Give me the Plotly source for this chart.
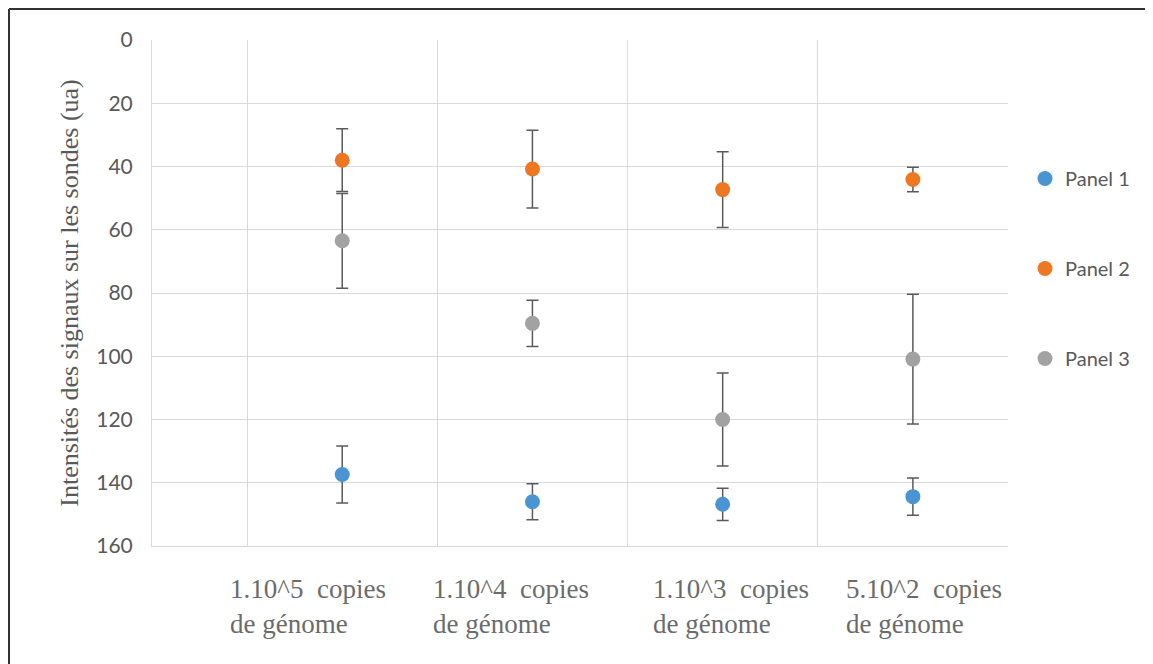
import plotly.graph_objects as go

# ---- data ----
categories = ["1.10^5\u00a0 copies<br>de génome",
              "1.10^4\u00a0 copies<br>de génome",
              "1.10^3\u00a0 copies<br>de génome",
              "5.10^2\u00a0 copies<br>de génome"]
x_pos = [1, 2, 3, 4]
label_x = [0.40, 1.465, 2.625, 3.64]

panel1 = [137.4, 146.0, 146.8, 144.4]
panel1_err = [9.0, 5.7, 5.1, 5.9]
panel2 = [38.0, 40.8, 47.3, 44.1]
panel2_err = [9.9, 12.3, 12.0, 3.9]
panel3 = [63.5, 89.6, 120.0, 100.9]
panel3_err = [15.0, 7.3, 14.7, 20.5]

series_names = ["Panel 1", "Panel 2", "Panel 3"]
colors = ["#4a94d3", "#ee7722", "#a2a2a2"]

y_ticks = [0, 20, 40, 60, 80, 100, 120, 140, 160]

fig = go.Figure()
for i, (name, vals, errs) in enumerate(zip(series_names,
                                           [panel1, panel2, panel3],
                                           [panel1_err, panel2_err, panel3_err])):
    fig.add_trace(go.Scatter(
        x=x_pos, y=vals, mode="markers", name=name,
        legendgroup=name,
        marker=dict(color=colors[i], size=15, line=dict(width=0)),
        error_y=dict(type="data", array=errs, visible=True,
                     color="#5a5a5a", thickness=1.5, width=6),
    ))

OFF = 8  # page body margin offset
W, H = 1145, 656
L, R, T, B = 152 - OFF, 145, 40 - OFF, 118
pw, ph = W - L - R, H - T - B

def px2x(px):
    return (px - OFF - L) / pw

def py2y(py):
    return (H - B - (py - OFF)) / ph

for lx, lab in zip(label_x, categories):
    fig.add_annotation(x=lx, xref="x", y=py2y(572), yref="paper",
                       text=lab, showarrow=False, xanchor="left", yanchor="top",
                       align="left",
                       font=dict(family="Liberation Serif", size=27, color="#6b6b6b"))

# outer frame: top and left edges only (right/bottom fall outside the picture)
fig.add_shape(type="line", xref="paper", yref="paper",
              x0=px2x(9), x1=px2x(1400), y0=py2y(9), y1=py2y(9),
              line=dict(color="#333333", width=2), layer="below")
fig.add_shape(type="line", xref="paper", yref="paper",
              x0=px2x(9), x1=px2x(9), y0=py2y(9), y1=py2y(900),
              line=dict(color="#333333", width=2), layer="below")

fig.update_layout(
    width=W, height=H,
    margin=dict(l=L, r=R, t=T, b=B),
    paper_bgcolor="white", plot_bgcolor="white",
    showlegend=True,
    legend=dict(x=px2x(1025), xanchor="left", y=py2y(159), yanchor="top",
                traceorder="grouped", tracegroupgap=61, itemwidth=30,
                font=dict(family="Lato", size=20, color="#595959"),
                bgcolor="rgba(0,0,0,0)"),
    xaxis=dict(range=[0, 4.5], tickvals=[0.5, 1.5, 2.5, 3.5, 4.5],
               showticklabels=False, showgrid=True, gridcolor="#d9d9d9",
               gridwidth=1, zeroline=False, showline=True, linecolor="#d9d9d9",
               linewidth=1, ticks=""),
    yaxis=dict(range=[160, 0], tickvals=y_ticks, showgrid=True,
               gridcolor="#d9d9d9", gridwidth=1, zeroline=False,
               showline=True, linecolor="#d9d9d9", linewidth=1, ticks="",
               ticklabelstandoff=14,
               tickfont=dict(family="Lato", size=21, color="#595959"),
               title=dict(text="Intensités des signaux sur les sondes (ua)",
                          standoff=10,
                          font=dict(family="Liberation Serif", size=26, color="#595959"))),
)

fig.write_html("out.html")
